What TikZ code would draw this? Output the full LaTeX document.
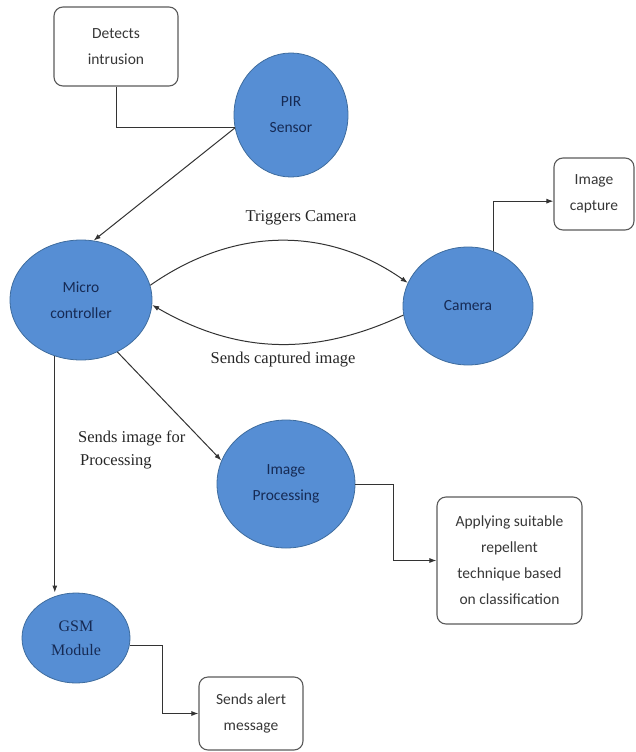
\documentclass[tikz,border=0pt]{standalone}
\usepackage{fontspec}
\setmainfont{Liberation Serif}
\newfontfamily\bubblefont{Carlito}
\usepackage{tikz}
\usetikzlibrary{shapes.geometric,arrows.meta}

\definecolor{bubblefill}{RGB}{86,142,212}
\definecolor{bubbleline}{RGB}{62,108,158}
\definecolor{bubbletext}{RGB}{22,42,84}
\definecolor{boxline}{RGB}{90,90,90}
\definecolor{boxtext}{RGB}{55,55,55}

\tikzset{
  bubble/.style={ellipse, draw=bubbleline, fill=bubblefill, line width=0.8pt, inner sep=0pt,
    text=bubbletext, align=center, font=\bubblefont\fontsize{15.5}{26}\selectfont},
  note/.style={rectangle, rounded corners=9pt, draw=boxline, line width=1.1pt, inner sep=0pt,
    text=boxtext, align=center, font=\bubblefont\fontsize{15.5}{26}\selectfont},
  conn/.style={draw=black!80, line width=1pt},
  arr/.style={conn, -{Latex[length=7pt,width=5pt]}},
  caption/.style={inner sep=0pt, text=black!85, font=\fontsize{16.5}{23}\selectfont}
}

\begin{document}
\begin{tikzpicture}[x=1pt,y=1pt,yscale=-1,xscale=1]
\useasboundingbox (0,0) rectangle (635,752);

% Bubbles
\draw (291,115) node [bubble, minimum width=114, minimum height=124] (pir) {PIR\\Sensor};
\draw (81,300) node [bubble, minimum width=142, minimum height=120] (micro) {Micro\\controller};
\draw (468,306) node [bubble, minimum width=130, minimum height=118] (cam) {Camera};
\draw (286,484) node [bubble, minimum width=138, minimum height=128] (proc) {Image\\Processing};
\draw (76,638) node [bubble, minimum width=108, minimum height=90, font=\fontsize{16}{24}\selectfont] (gsm) {GSM\\Module};

% Boxes
\draw (116,46.5) node [note, minimum width=124, minimum height=79] (intr) {Detects\\intrusion};
\draw (594,194) node [note, minimum width=80, minimum height=72] (capt) {Image\\capture};
\draw (509.5,560.5) node [note, minimum width=145, minimum height=127] (apply) {Applying suitable\\repellent\\technique based\\on classification};
\draw (251,713.5) node [note, minimum width=104, minimum height=73] (alert) {Sends alert\\message};

% Text Node
\draw (301,218) node [caption] (trig) {Triggers Camera};
% Text Node
\draw (283,360) node [caption] (sendcap) {Sends captured image};
% Text Node
\draw (78,449.5) node [caption, anchor=west, align=left] (sendproc) {Sends image for\\\hspace{2pt}Processing};

%Straight Lines
\draw [conn] (intr.south) |- (pir.193);
\draw [arr] (pir.193) -- (micro.78);
\draw [arr] (micro.245) -- (micro.245 |- gsm.north);
\draw [arr] (micro.-55) -- (proc.160);
\draw [arr] (cam.65) |- (capt.190);
\draw [arr] (proc.east) -| ([xshift=-43pt]apply.west) -- (apply.west);
\draw [arr] (gsm.-8) -| ([xshift=-36pt]alert.west) -- (alert.west);

%Curve Lines
\draw [arr] (micro.12) to [out=-35,in=-145] (cam.159);
\draw [arr] (cam.188) to [out=155,in=30] (micro.356);

\end{tikzpicture}
\end{document}
